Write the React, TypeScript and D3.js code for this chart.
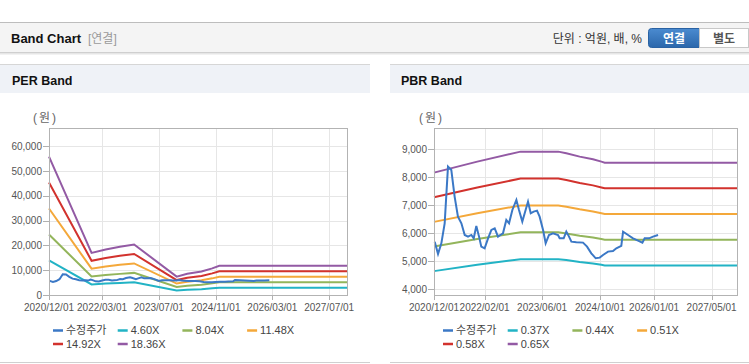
import React from 'react';
import * as d3 from 'd3';

// ---------- DATA ----------
const X_START = '2020-12-01';
const X_END = '2027-12-01';

const PRICE_DATES = [
  '2020-12-07', '2021-01-04', '2021-02-01', '2021-03-01', '2021-03-29', '2021-04-26', '2021-05-24',
  '2021-06-21', '2021-07-20', '2021-08-17', '2021-09-14', '2021-10-12', '2021-11-01', '2021-11-23',
  '2021-12-16', '2022-01-04', '2022-02-01', '2022-03-02', '2022-03-30', '2022-04-27', '2022-05-25',
  '2022-06-14', '2022-07-06', '2022-08-03', '2022-08-26', '2022-09-23', '2022-10-27', '2022-11-18',
  '2022-12-16', '2023-01-05', '2023-02-02', '2023-02-25', '2023-03-22', '2023-04-19', '2023-05-11',
  '2023-06-09', '2023-07-01', '2023-07-29', '2023-09-01', '2023-10-13', '2023-10-27', '2023-11-30',
  '2023-12-22', '2024-01-14', '2024-02-03', '2024-03-16', '2024-05-11', '2024-06-14', '2024-07-20',
  '2024-08-26', '2024-09-29', '2024-10-27', '2024-12-08', '2025-01-19', '2025-02-16', '2025-03-30',
  '2025-04-14', '2025-05-26', '2025-07-07', '2025-08-18', '2025-09-24', '2025-10-13', '2025-11-19',
  '2025-12-23', '2026-02-03',
];
const PRICE_VALUES = [
  5702, 5262, 5643, 6357, 8381, 8262, 7310,
  6595, 6357, 5940, 5881, 5940, 5821, 6262,
  5881, 5524, 5464, 5821, 6119, 6179, 5881,
  5940, 6000, 6476, 6357, 6833, 7190, 6833,
  6417, 6714, 7131, 6714, 6774, 6810, 6595,
  6119, 5643, 5940, 6000, 5940, 5821, 5821,
  6060, 5881, 5702, 5679, 5667, 5524, 5286,
  5107, 5131, 5226, 5345, 5369, 5464, 5548,
  6060, 5940, 5821, 5738, 5667, 5821, 5821,
  5881, 5940,
];

const PER_DATES = [
  '2020-12-01', '2021-12-01', '2022-04-01', '2022-08-01', '2022-12-01', '2023-12-01',
  '2024-03-01', '2024-07-01', '2024-10-01', '2024-12-01', '2027-12-01',
];
const PER_LABELS = ['수정주가', '4.60X', '8.04X', '11.48X', '14.92X', '18.36X'];
const PER_460 = [13984, 4255, 4600, 4876, 5106, 1854, 2139, 2369, 2691, 2958, 2958];
const PER_804 = [24442, 7437, 8040, 8522, 8924, 3240, 3739, 4141, 4703, 5170, 5170];
const PER_1148 = [34899, 10619, 11480, 12169, 12743, 4626, 5338, 5912, 6716, 7382, 7382];
const PER_1492 = [45357, 13801, 14920, 15815, 16561, 6013, 6938, 7684, 8728, 9594, 9594];
const PER_1836 = [55814, 16983, 18360, 19462, 20380, 7399, 8537, 9455, 10741, 11805, 11805];
const PER_Y_TICKS = [0, 10000, 20000, 30000, 40000, 50000, 60000];
const PER_X_TICKS = ['2020-12-01', '2022-03-01', '2023-07-01', '2024-11-01', '2026-03-01', '2027-07-01'];

const PBR_DATES = [
  '2020-12-01', '2021-12-01', '2022-12-01', '2023-10-15', '2023-12-22', '2024-04-13',
  '2024-08-03', '2024-10-13', '2024-11-10', '2027-12-01',
];
const PBR_LABELS = ['수정주가', '0.37X', '0.44X', '0.51X', '0.58X', '0.65X'];
const PBR_037 = [4649, 4873, 5076, 5076, 5042, 4974, 4920, 4873, 4852, 4852];
const PBR_044 = [5529, 5794, 6036, 6036, 5995, 5915, 5851, 5794, 5770, 5770];
const PBR_051 = [6408, 6716, 6996, 6996, 6949, 6856, 6781, 6716, 6688, 6688];
const PBR_058 = [7288, 7638, 7956, 7956, 7903, 7797, 7712, 7638, 7606, 7606];
const PBR_065 = [8167, 8560, 8917, 8917, 8857, 8738, 8643, 8560, 8524, 8524];
const PBR_Y_TICKS = [4000, 5000, 6000, 7000, 8000, 9000];
const PBR_X_TICKS = ['2020-12-01', '2022-02-01', '2023-06-01', '2024-10-01', '2026-01-01', '2027-05-01'];

const SERIES_COLORS = ['#3b78c6', '#22b3c5', '#93b55b', '#f4a83a', '#d2322d', '#935aa4'];

// ---------- DRAWING ----------
const FONT = '"Liberation Sans", Arial, "Noto Sans CJK KR", sans-serif';
const parse = d3.timeParse('%Y-%m-%d');
const fmtDate = d3.timeFormat('%Y/%m/%d');
const fmtNum = d3.format(',');

type Pt = [Date, number];

function BandChart(props: {
  left: number; right: number; top: number; bottom: number;
  yDomain: [number, number]; yTicks: number[]; xTicks: string[];
  bandDates: string[]; bands: number[][]; labels: string[];
  unitX: number; legendX: number;
}) {
  const { left, right, top, bottom, yDomain, yTicks, xTicks, bandDates, bands, labels, unitX, legendX } = props;
  const x = d3.scaleTime().domain([parse(X_START)!, parse(X_END)!]).range([left, right]);
  const y = d3.scaleLinear().domain(yDomain).range([bottom, top]);
  const line = d3.line<Pt>().x(d => x(d[0])).y(d => y(d[1]));
  const bandPts = bands.map(b => b.map((v, i) => [parse(bandDates[i])!, v] as Pt));
  const pricePts = PRICE_VALUES.map((v, i) => [parse(PRICE_DATES[i])!, v] as Pt);

  return (
    <g>
      <text x={unitX} y={122} fontSize={12} fill="#666" fontFamily={FONT} letterSpacing={2}>(원)</text>
      {/* grid */}
      {yTicks.map(t => (
        <line key={'gy' + t} x1={left} x2={right} y1={Math.round(y(t)) + 0.5} y2={Math.round(y(t)) + 0.5} stroke="#e6e6e6" />
      ))}
      {xTicks.map(t => (
        <line key={'gx' + t} y1={top} y2={bottom} x1={Math.round(x(parse(t)!)) + 0.5} x2={Math.round(x(parse(t)!)) + 0.5} stroke="#e6e6e6" />
      ))}
      {/* y ticks */}
      {yTicks.map(t => (
        <g key={'ty' + t}>
          <line x1={left - 6} x2={left} y1={Math.round(y(t)) + 0.5} y2={Math.round(y(t)) + 0.5} stroke="#b0b0b0" />
          <text x={left - 7} y={y(t)} dy="0.35em" textAnchor="end" fontSize={10} fill="#555" fontFamily={FONT}>{fmtNum(t)}</text>
        </g>
      ))}
      {/* x ticks */}
      {xTicks.map(t => (
        <g key={'tx' + t}>
          <line y1={bottom} y2={bottom + 5} x1={Math.round(x(parse(t)!)) + 0.5} x2={Math.round(x(parse(t)!)) + 0.5} stroke="#b0b0b0" />
          <text x={x(parse(t)!)} y={310.5} textAnchor="middle" fontSize={10} fill="#555" fontFamily={FONT}>{fmtDate(parse(t)!)}</text>
        </g>
      ))}
      {/* series */}
      <g>
        {bandPts.map((pts, i) => (
          <path key={'b' + i} d={line(pts)!} fill="none" stroke={SERIES_COLORS[i + 1]} strokeWidth={2} />
        ))}
        <path d={line(pricePts)!} fill="none" stroke={SERIES_COLORS[0]} strokeWidth={2} />
      </g>
      {/* border */}
      <rect x={left + 0.5} y={top + 0.5} width={right - left} height={bottom - top} fill="none" stroke="#b3b3b3" />
      {/* legend */}
      {labels.map((lab, i) => {
        const row = i < 4 ? 0 : 1;
        const col = i < 4 ? i : i - 4;
        const lx = legendX + col * 64.7;
        const ly = row === 0 ? 330.5 : 344;
        return (
          <g key={'lg' + i}>
            <line x1={lx} x2={lx + 10} y1={ly} y2={ly} stroke={SERIES_COLORS[i]} strokeWidth={2.5} />
            <text x={lx + 13} y={ly} dy="0.36em" fontSize={11} fill="#444" fontFamily={FONT}>{lab}</text>
          </g>
        );
      })}
    </g>
  );
}

export default function App() {
  const bx = 648.5, by = 28.5, bw = 51, bh = 19, r = 3;
  const leftBtn = `M${bx + r},${by} H${bx + bw} V${by + bh} H${bx + r} A${r},${r} 0 0 1 ${bx},${by + bh - r} V${by + r} A${r},${r} 0 0 1 ${bx + r},${by} Z`;
  return (
    <svg width={749} height={364} style={{ position: 'absolute', left: 0, top: 0, background: '#fff' }} fontFamily={FONT}>
      <defs>
        <linearGradient id="btnBlue" x1="0" y1="0" x2="0" y2="1">
          <stop offset="0" stopColor="#4b8bd0" />
          <stop offset="1" stopColor="#2b67ab" />
        </linearGradient>
      </defs>
      <rect x={0} y={0} width={749} height={364} fill="#fff" />
      {/* top header */}
      <rect x={0} y={23} width={749} height={29} fill="#f4f4f4" />
      <line x1={0} x2={749} y1={22.5} y2={22.5} stroke="#bdbdbd" />
      <line x1={0} x2={749} y1={52.5} y2={52.5} stroke="#cfcfcf" />
      <line x1={0} x2={749} y1={53.5} y2={53.5} stroke="#e6e6e6" />
      <line x1={0} x2={749} y1={54.5} y2={54.5} stroke="#f2f2f2" />
      <text x={11} y={43} fontSize={13} fontWeight="bold" fill="#111">Band Chart</text>
      <text x={88} y={43} fontSize={12} fill="#9a9a9a">[연결]</text>
      <text x={642} y={43} fontSize={12} textAnchor="end" fill="#333">단위 : 억원, 배, %</text>
      <path d={leftBtn} fill="url(#btnBlue)" stroke="#2a62a3" />
      <text x={674} y={42.5} fontSize={12} fontWeight="bold" textAnchor="middle" fill="#fff">연결</text>
      <rect x={699.5} y={28.5} width={49} height={19} fill="#fff" stroke="#c8c8c8" />
      <text x={724} y={42.5} fontSize={12} fontWeight="bold" textAnchor="middle" fill="#555">별도</text>

      {/* panel headers */}
      <rect x={0} y={65} width={370} height={28} fill="#eff2f7" />
      <line x1={0} x2={370} y1={64.5} y2={64.5} stroke="#d6d6d6" />
      <text x={12} y={84.5} fontSize={12.5} fontWeight="bold" fill="#111">PER Band</text>
      <rect x={390} y={65} width={359} height={28} fill="#eff2f7" />
      <line x1={390} x2={749} y1={64.5} y2={64.5} stroke="#d6d6d6" />
      <text x={401} y={84.5} fontSize={12.5} fontWeight="bold" fill="#111">PBR Band</text>

      <line x1={0} x2={370} y1={362.5} y2={362.5} stroke="#d0d0d0" />
      <line x1={390} x2={749} y1={362.5} y2={362.5} stroke="#d0d0d0" />

      <BandChart
        left={49} right={347} top={128} bottom={295}
        yDomain={[0, 67380]} yTicks={PER_Y_TICKS} xTicks={PER_X_TICKS}
        bandDates={PER_DATES} bands={[PER_460, PER_804, PER_1148, PER_1492, PER_1836]}
        labels={PER_LABELS} unitX={33} legendX={53}
      />
      <BandChart
        left={434} right={737} top={128} bottom={295}
        yDomain={[3796, 9761]} yTicks={PBR_Y_TICKS} xTicks={PBR_X_TICKS}
        bandDates={PBR_DATES} bands={[PBR_037, PBR_044, PBR_051, PBR_058, PBR_065]}
        labels={PBR_LABELS} unitX={419} legendX={443}
      />
    </svg>
  );
}
